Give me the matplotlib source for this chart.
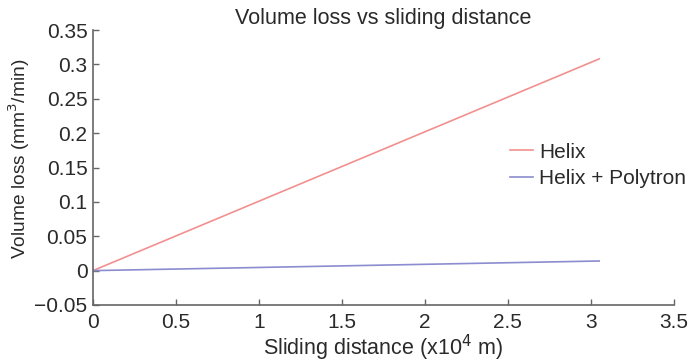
import numpy as np
import matplotlib
matplotlib.use('Agg')
import matplotlib.pyplot as plt

plt.rcParams['font.family'] = ['Liberation Sans', 'DejaVu Sans']

# data
distance = [0, 3.05]            # x10^4 m
helix = [0, 0.308]              # mm^3/min
helix_polytron = [0, 0.014]

x_ticks = [0, 0.5, 1, 1.5, 2, 2.5, 3, 3.5]
y_ticks = [-0.05, 0, 0.05, 0.1, 0.15, 0.2, 0.25, 0.3, 0.35]

fig = plt.figure(figsize=(6.94, 3.62), dpi=100)
ax = fig.add_axes([0.134, 0.1575, 0.837, 0.7595])

ax.plot(distance, helix, color='#f29090', lw=1.2, label='Helix')
ax.plot(distance, helix_polytron, color='#8c8cd0', lw=1.2, label='Helix + Polytron')

ax.set_xlim(0, 3.5)
ax.set_ylim(-0.05, 0.35)
ax.set_xticks(x_ticks)
ax.set_xticklabels(['0', '0.5', '1', '1.5', '2', '2.5', '3', '3.5'])
ax.set_yticks(y_ticks)
ax.set_yticklabels(['\u22120.05', '0', '0.05', '0.1', '0.15', '0.2', '0.25', '0.3', '0.35'])

for s in ['top', 'right']:
    ax.spines[s].set_visible(False)
for s in ['left', 'bottom']:
    ax.spines[s].set_color('#666666')
    ax.spines[s].set_linewidth(1.2)
ax.tick_params(direction='in', length=4, width=1, color='#666666', labelsize=15,
               labelcolor='#2a2a2a')
ax.tick_params(axis='x', pad=6)
ax.tick_params(axis='y', pad=4)

ax.set_title('Volume loss vs sliding distance', fontsize=15.5, color='#2a2a2a', pad=4)
ax.set_xlabel('Sliding distance (x10$^4$ m)', fontsize=15.5, color='#2a2a2a', labelpad=0)
ax.set_ylabel('Volume loss (mm$^3$/min)', fontsize=13.8, color='#2a2a2a')
ax.yaxis.set_label_coords(-0.105, 0.53)

ax.legend(loc='upper left', bbox_to_anchor=(0.718, 0.59), frameon=False, fontsize=15,
          handlelength=1.1, handletextpad=0.3, labelspacing=0.35, labelcolor='#2a2a2a',
          borderaxespad=0, borderpad=0)

fig.savefig('out.png', dpi=100)
